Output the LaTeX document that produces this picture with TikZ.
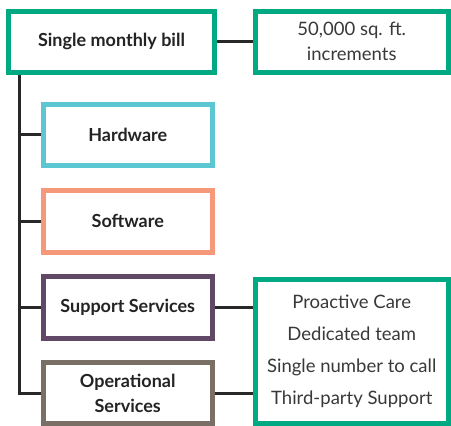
\documentclass[tikz,border=0pt]{standalone}
\usepackage{fontspec}
\setmainfont{Lato}
\usepackage{tikz}
\usepackage{xcolor}
\usetikzlibrary{positioning}

\definecolor{hpegreen}{RGB}{1,169,130}
\definecolor{hwcyan}{RGB}{92,199,210}
\definecolor{swsalmon}{RGB}{246,152,122}
\definecolor{suppurple}{RGB}{98,72,103}
\definecolor{opsgray}{RGB}{122,111,101}
\definecolor{linegray}{RGB}{40,40,40}
\definecolor{textgray}{RGB}{35,35,35}

\tikzset{
	box/.style={draw,line width=5pt,fill=white,align=center,inner sep=0pt},
	headbox/.style={box,font=\bfseries\fontsize{18}{25}\selectfont,text=textgray},
	listbox/.style={box,font=\fontsize{18.5}{25}\selectfont,text=textgray!90},
	link/.style={draw=linegray,line width=3pt}
}

\begin{document}
\begin{tikzpicture}[x=1pt,y=-1pt]
	\useasboundingbox (0,0) rectangle (451,426);
	% top row
	\node (bill) [headbox,draw=hpegreen,minimum width=206pt,minimum height=61.5pt] at (111.5,41.75) {Single monthly bill};
	\node (incr) [listbox,draw=hpegreen,minimum width=192.5pt,minimum height=61.5pt] at (351.75,41.75) {50,000 sq. ft.\\increments};
	\draw[link] (bill) -- (incr);
	% branches
	\node (hw) [headbox,draw=hwcyan,minimum width=169.5pt,minimum height=61pt] at (127.75,134.5) {Hardware};
	\node (sw) [headbox,draw=swsalmon,minimum width=169.5pt,minimum height=62pt] at (127.75,221) {Software};
	\node (sup) [headbox,draw=suppurple,minimum width=169.5pt,minimum height=61.5pt] at (127.75,307.25) {Support Services};
	\node (ops) [headbox,draw=opsgray,minimum width=169.5pt,minimum height=61pt] at (127.75,393) {Operational\\Services};
	\node (care) [listbox,draw=hpegreen,minimum width=192.5pt,minimum height=144pt,font=\fontsize{18.5}{32}\selectfont] at (351.75,351.5) {Proactive Care\\Dedicated team\\Single number to call\\Third-party Support};
	% trunk
	\coordinate (trunk) at (19,0);
	\draw[link] (trunk |- bill.south) |- (ops.west);
	\draw[link] (trunk |- hw.west) -- (hw.west);
	\draw[link] (trunk |- sw.west) -- (sw.west);
	\draw[link] (trunk |- sup.west) -- (sup.west);
	\draw[link] (sup.east) -- (sup.east -| care.west);
	\draw[link] (ops.east) -- (ops.east -| care.west);
\end{tikzpicture}
\end{document}
